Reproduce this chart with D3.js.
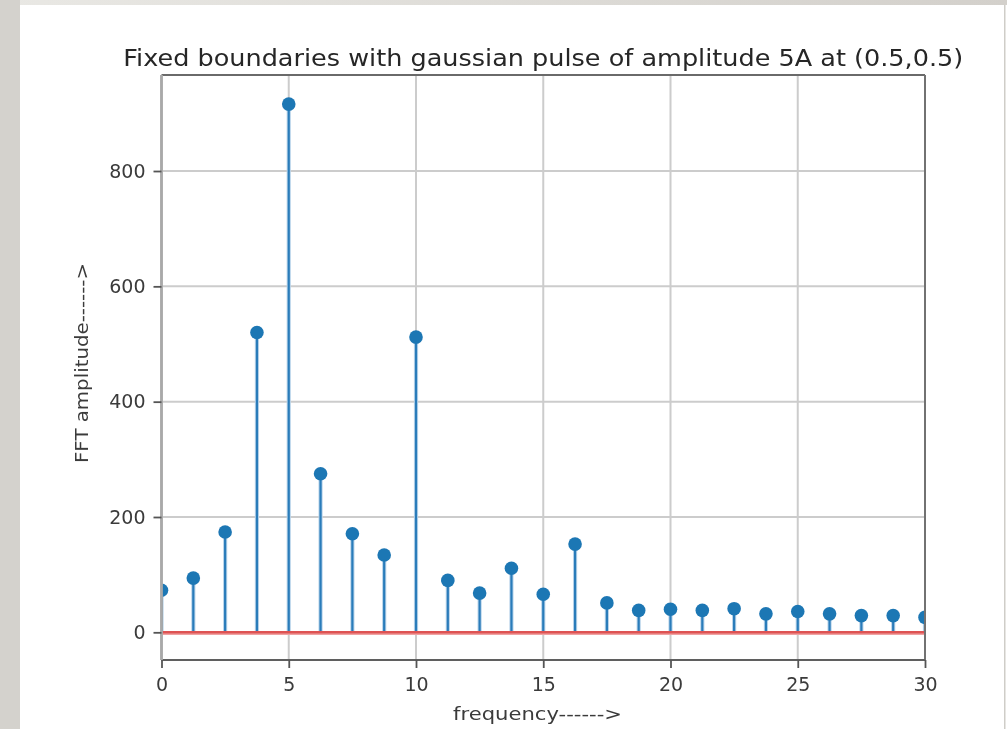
<!DOCTYPE html>
<html>
<head>
<meta charset="utf-8">
<script src="https://cdn.jsdelivr.net/npm/d3@7"></script>
<style>
  html, body { margin: 0; padding: 0; background: #ffffff; }
  svg { display: block; }
  text { font-family: "DejaVu Sans", sans-serif; }
</style>
</head>
<body>
<svg id="chart" width="1007" height="729"></svg>
<script>
// FFT spectrum: frequency bins (step 1.25) and amplitudes
const frequencies = [0, 1.25, 2.5, 3.75, 5, 6.25, 7.5, 8.75, 10, 11.25, 12.5, 13.75,
  15, 16.25, 17.5, 18.75, 20, 21.25, 22.5, 23.75, 25, 26.25, 27.5, 28.75, 30];
const amplitudes = [73, 94, 174, 520, 916, 275, 171, 134, 512, 90, 68, 111,
  66, 153, 51, 38, 40, 38, 41, 32, 36, 32, 29, 29, 26];
const xTicks = [0, 5, 10, 15, 20, 25, 30];
const yTicks = [0, 200, 400, 600, 800];
const titleText = "Fixed boundaries with gaussian pulse of amplitude 5A at (0.5,0.5)";
const xLabel = "frequency------>";
const yLabel = "FFT amplitude------>";

const W = 1007, H = 729;
const plot = { left: 161.5, right: 925, top: 75, bottom: 660 };

const svg = d3.select("#chart");

// page frame
svg.append("rect").attr("x", 0).attr("y", 0).attr("width", W).attr("height", H).attr("fill", "#ffffff");
const defs = svg.append("defs");
const grad = defs.append("linearGradient").attr("id", "topband")
  .attr("x1", 0).attr("x2", 1).attr("y1", 0).attr("y2", 0);
grad.append("stop").attr("offset", 0).attr("stop-color", "#e9e8e4");
grad.append("stop").attr("offset", 1).attr("stop-color", "#d3d0cb");
svg.append("rect").attr("x", 0).attr("y", 0).attr("width", W).attr("height", 5).attr("fill", "url(#topband)");
svg.append("rect").attr("x", 0).attr("y", 0).attr("width", 20).attr("height", H).attr("fill", "#d4d2cd");
svg.append("rect").attr("x", 1004).attr("y", 5).attr("width", 1.5).attr("height", H).attr("fill", "#cfcdc8");

defs.append("filter").attr("id", "soft").attr("x", "-5%").attr("y", "-5%").attr("width", "110%").attr("height", "110%")
  .append("feGaussianBlur").attr("stdDeviation", 0.65);
defs.append("clipPath").attr("id", "plotclip").append("rect")
  .attr("x", plot.left).attr("y", plot.top)
  .attr("width", plot.right - plot.left).attr("height", plot.bottom - plot.top);

const g = svg.append("g").attr("filter", "url(#soft)");

const x = d3.scaleLinear().domain([0, 30]).range([plot.left, plot.right]);
const y = d3.scaleLinear().domain([-48, 966.5]).range([plot.bottom, plot.top]);

// grid
g.append("g").selectAll("line").data(xTicks).join("line")
  .attr("x1", d => x(d)).attr("x2", d => x(d)).attr("y1", plot.top).attr("y2", plot.bottom)
  .attr("stroke", "#cccccc").attr("stroke-width", 2);
g.append("g").selectAll("line").data(yTicks).join("line")
  .attr("x1", plot.left).attr("x2", plot.right).attr("y1", d => y(d)).attr("y2", d => y(d))
  .attr("stroke", "#cccccc").attr("stroke-width", 2);

// stems, baseline and markers
const data = frequencies.map((f, i) => ({ f, a: amplitudes[i] }));
const marks = g.append("g").attr("clip-path", "url(#plotclip)");
marks.selectAll("line.halo").data(data).join("line").attr("class", "halo")
  .attr("x1", d => x(d.f)).attr("x2", d => x(d.f))
  .attr("y1", y(0)).attr("y2", d => y(d.a))
  .attr("stroke", "#b9d4ea").attr("stroke-width", 4.2);
marks.selectAll("line.stem").data(data).join("line").attr("class", "stem")
  .attr("x1", d => x(d.f)).attr("x2", d => x(d.f))
  .attr("y1", y(0)).attr("y2", d => y(d.a))
  .attr("stroke", "#2a7cba").attr("stroke-width", 2.2);
marks.append("line")
  .attr("x1", plot.left).attr("x2", plot.right).attr("y1", y(0) + 1.8).attr("y2", y(0) + 1.8)
  .attr("stroke", "#f0a2a2").attr("stroke-width", 2);
marks.append("line")
  .attr("x1", plot.left).attr("x2", plot.right).attr("y1", y(0)).attr("y2", y(0))
  .attr("stroke", "#de5353").attr("stroke-width", 2.4);
marks.selectAll("circle").data(data).join("circle")
  .attr("cx", d => x(d.f)).attr("cy", d => y(d.a)).attr("r", 6.8)
  .attr("fill", "#1f77b4");

// spines
const spines = g.append("g").attr("fill", "none");
spines.append("line").attr("x1", plot.left).attr("x2", plot.right).attr("y1", plot.top).attr("y2", plot.top)
  .attr("stroke", "#6a6a6a").attr("stroke-width", 2);
spines.append("line").attr("x1", plot.right).attr("x2", plot.right).attr("y1", plot.top).attr("y2", plot.bottom)
  .attr("stroke", "#727272").attr("stroke-width", 2);
spines.append("line").attr("x1", plot.left).attr("x2", plot.right).attr("y1", plot.bottom).attr("y2", plot.bottom)
  .attr("stroke", "#5e5e5e").attr("stroke-width", 2);
spines.append("line").attr("x1", plot.left).attr("x2", plot.left).attr("y1", plot.top).attr("y2", plot.bottom)
  .attr("stroke", "#a9a9a9").attr("stroke-width", 2.8);

// axes
const xAxis = d3.axisBottom(x).tickValues(xTicks).tickSize(8).tickPadding(5).tickFormat(d3.format("d"));
const yAxis = d3.axisLeft(y).tickValues(yTicks).tickSize(8).tickPadding(8).tickFormat(d3.format("d"));

const gx = g.append("g").attr("transform", `translate(0,${plot.bottom})`).call(xAxis);
const gy = g.append("g").attr("transform", `translate(${plot.left},0)`).call(yAxis);
[gx, gy].forEach(a => {
  a.select(".domain").remove();
  a.selectAll(".tick line").attr("stroke", "#555555").attr("stroke-width", 1.8);
  a.selectAll(".tick text").attr("fill", "#3a3a3a").attr("font-size", 19)
    .attr("font-family", "DejaVu Sans, sans-serif");
});
gx.selectAll(".tick text").attr("dy", "0.95em");

// title and axis labels
g.append("text").attr("x", (plot.left + plot.right) / 2).attr("y", 66)
  .attr("text-anchor", "middle").attr("font-size", 23).attr("fill", "#262626")
  .attr("textLength", 840).attr("lengthAdjust", "spacingAndGlyphs")
  .text(titleText);
g.append("text").attr("x", 537.5).attr("y", 720)
  .attr("text-anchor", "middle").attr("font-size", 18).attr("fill", "#3a3a3a")
  .attr("textLength", 169).attr("lengthAdjust", "spacingAndGlyphs")
  .text(xLabel);
g.append("text").attr("transform", `translate(88,363) rotate(-90)`)
  .attr("text-anchor", "middle").attr("font-size", 18).attr("fill", "#3a3a3a")
  .attr("textLength", 200).attr("lengthAdjust", "spacingAndGlyphs")
  .text(yLabel);
</script>
</body>
</html>
